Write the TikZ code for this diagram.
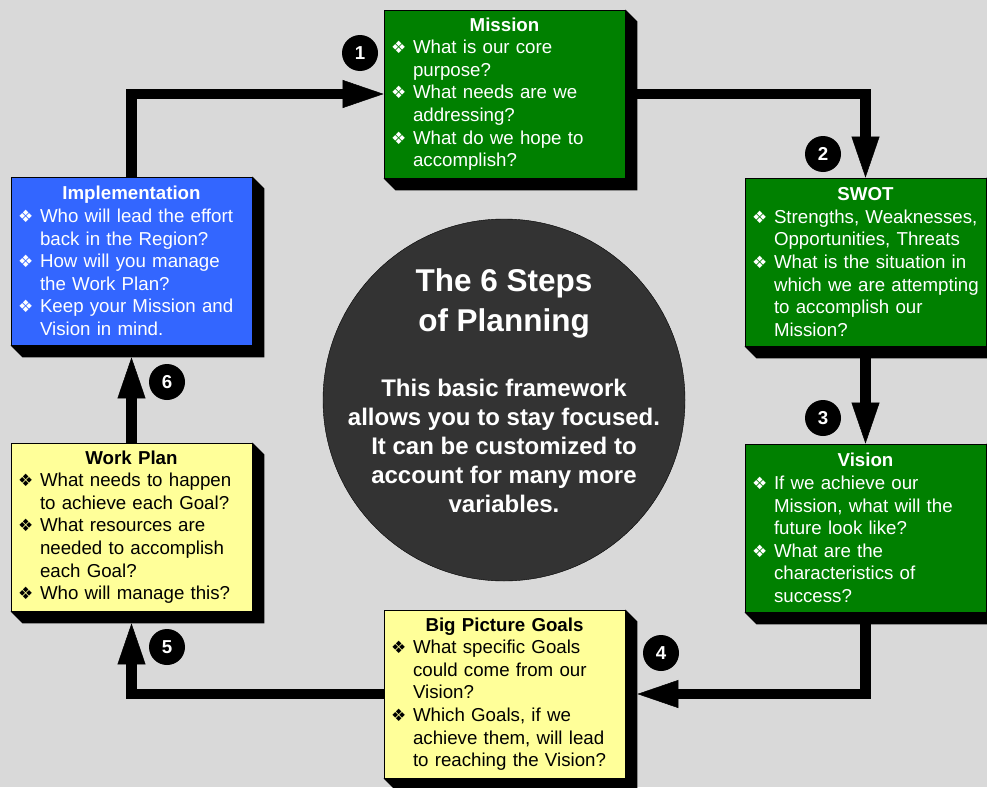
\documentclass[tikz,border=0pt]{standalone}
\usepackage{fontspec}
\setmainfont{Liberation Sans}
\newfontfamily\dingf{DejaVu Sans}
\usetikzlibrary{arrows.meta}

\definecolor{bggray}{HTML}{D9D9D9}
\definecolor{stepgreen}{HTML}{008000}
\definecolor{stepblue}{HTML}{3366FF}
\definecolor{stepyellow}{HTML}{FFFF99}
\definecolor{hubgray}{HTML}{333333}

\newcommand{\bul}{\makebox[22pt][l]{\dingf\fontsize{17}{17}\selectfont ❖}}
\newcommand{\ind}{\hspace*{22pt}}

\begin{document}
\begin{tikzpicture}[
	  x=1pt, y=-1pt,
	  stepbox/.style={draw=black, line width=0.8pt, minimum width=241pt, minimum height=168pt,
	    text width=227pt, inner xsep=7pt, align=left, font=\fontsize{18.7}{22.6}\selectfont},
	  numdot/.style={circle, fill=black, text=white, minimum size=36pt, inner sep=0pt,
	    font=\fontsize{18.7}{20}\selectfont\bfseries},
	  flow/.style={line width=10.5pt, -{Triangle[length=41pt,width=28pt,line width=0.5pt]}},
	]

	\useasboundingbox (0,0) rectangle (987,787);
	\clip (0,0) rectangle (987,787);
	\fill [bggray] (0,0) rectangle (987,787);

	% the six steps
	\node [stepbox, fill=stepgreen, text=white] (mission) at (504.5,94) {%
	  {\centering\bfseries Mission\par}
	  \bul What is our core\\ \ind purpose?\\
	  \bul What needs are we\\ \ind addressing?\\
	  \bul What do we hope to\\ \ind accomplish?};
	\node [stepbox, fill=stepgreen, text=white] (swot) at (865.5,262) {%
	  {\centering\bfseries SWOT\par}
	  \bul Strengths, Weaknesses,\\ \ind Opportunities, Threats\\
	  \bul What is the situation in\\ \ind which we are attempting\\
	  \ind to accomplish our\\ \ind Mission?};
	\node [stepbox, fill=stepgreen, text=white] (vision) at (865.5,528) {%
	  {\centering\bfseries Vision\par}
	  \bul If we achieve our\\ \ind Mission, what will the\\
	  \ind future look like?\\
	  \bul What are the\\ \ind characteristics of\\ \ind success?};
	\node [stepbox, fill=stepyellow] (goals) at (504.5,694) {%
	  {\centering\bfseries Big Picture Goals\par}
	  \bul What specific Goals\\ \ind could come from our\\ \ind Vision?\\
	  \bul Which Goals, if we\\ \ind achieve them, will lead\\
	  \ind to reaching the Vision?};
	\node [stepbox, fill=stepyellow] (plan) at (131.5,527) {%
	  {\centering\bfseries Work Plan\par}
	  \bul What needs to happen\\ \ind to achieve each Goal?\\
	  \bul What resources are\\ \ind needed to accomplish\\ \ind each Goal?\\
	  \bul Who will manage this?};
	\node [stepbox, fill=stepblue, text=white] (impl) at (131.5,261) {%
	  {\centering\bfseries Implementation\par}
	  \bul Who will lead the effort\\ \ind back in the Region?\\
	  \bul How will you manage\\ \ind the Work Plan?\\
	  \bul Keep your Mission and\\ \ind Vision in mind.};

	% cycle
	\draw [flow] (impl.north) |- (mission.west);
	\draw [flow] (mission.east) -| (swot.north);
	\draw [flow] (swot.south) -- (vision.north);
	\draw [flow] (vision.south) |- ([xshift=12pt]goals.east);
	\draw [flow] (goals.west) -| ([yshift=-12pt]plan.south);
	\draw [flow] (plan.north) -- ([yshift=-12pt]impl.south);

	\foreach \b in {mission,swot,vision,goals,plan,impl}
	  \fill (\b.north east) -- ([shift={(12pt,-12pt)}]\b.north east)
	    -- ([shift={(12pt,-12pt)}]\b.south east) -- ([shift={(12pt,-12pt)}]\b.south west)
	    -- (\b.south west) -- (\b.south east) -- cycle;

	\node [numdot] (n1) at (360,53) {1};
	\node [numdot] (n2) at (823,154) {2};
	\node [numdot] (n3) at (823,418) {3};
	\node [numdot] (n4) at (661,653) {4};
	\node [numdot] (n5) at (167,647) {5};
	\node [numdot] (n6) at (167,382) {6};

	% centre
	\node [circle, fill=hubgray, draw=black, minimum size=362pt, inner sep=0pt] (hub) at (504,400) {};
	\node [text=white, align=center, font=\fontsize{31.5}{40}\selectfont\bfseries] (hubtitle) at (504,303)
	  {The 6 Steps\\of Planning};
	\node [text=white, align=center, font=\fontsize{24}{29}\selectfont\bfseries] (hubtext) at (504,446)
	  {This basic framework\\allows you to stay focused.\\It can be customized to\\account for many more\\variables.};
\end{tikzpicture}
\end{document}
